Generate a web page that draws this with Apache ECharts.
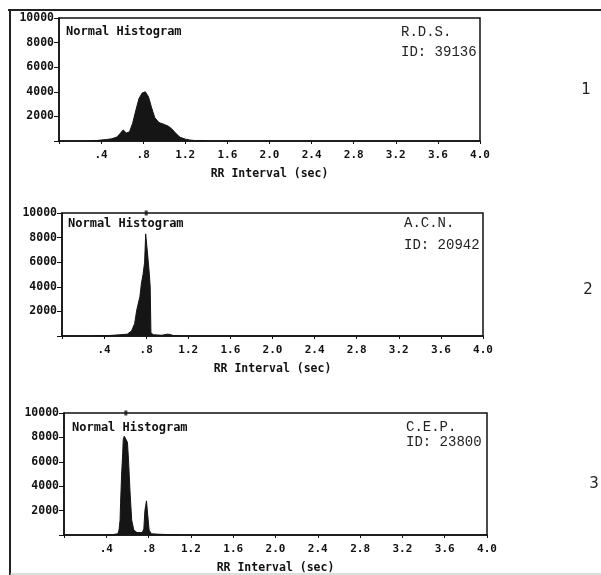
<!DOCTYPE html>
<html>
<head>
<meta charset="utf-8">
<script src="https://cdn.jsdelivr.net/npm/echarts@6/dist/echarts.min.js"></script>
<style>
  html, body { margin: 0; padding: 0; background: #fff; }
  #hist { width: 601px; height: 575px; }
</style>
</head>
<body>
<div id="hist"></div>
<script>
// RR interval histograms, three patients
var patients = ['R.D.S.', 'A.C.N.', 'C.E.P.'];
var patientIds = ['39136', '20942', '23800'];
var panelNumbers = ['1', '2', '3'];

// RR interval (sec) / count
var rdsX = [0.30, 0.35, 0.40, 0.45, 0.50, 0.55, 0.58, 0.61, 0.64, 0.67, 0.70, 0.73, 0.76, 0.79, 0.82, 0.85, 0.88, 0.91, 0.95, 1.00, 1.04, 1.07, 1.11, 1.15, 1.20, 1.25, 1.30, 1.40];
var rdsY = [0, 30, 80, 120, 180, 320, 600, 900, 650, 750, 1450, 2500, 3450, 3900, 4000, 3600, 2700, 1900, 1500, 1350, 1200, 1000, 620, 300, 150, 70, 30, 0];

var acnX = [0.30, 0.45, 0.55, 0.62, 0.66, 0.69, 0.71, 0.74, 0.755, 0.77, 0.785, 0.795, 0.81, 0.815, 0.83, 0.838, 0.845, 0.87, 0.95, 1.00, 1.03, 1.06, 1.12];
var acnY = [0, 40, 100, 150, 400, 1000, 2100, 3200, 4300, 5000, 6000, 8300, 8300, 6500, 5000, 4000, 250, 100, 60, 150, 120, 30, 0];

var cepX = [0.40, 0.45, 0.51, 0.52, 0.53, 0.535, 0.545, 0.555, 0.56, 0.57, 0.585, 0.60, 0.61, 0.625, 0.64, 0.66, 0.69, 0.74, 0.755, 0.765, 0.78, 0.79, 0.805, 0.825, 0.90, 1.00, 1.10];
var cepY = [0, 20, 100, 400, 1200, 2600, 5000, 6700, 7800, 8100, 8100, 7600, 6150, 3440, 1230, 400, 200, 200, 500, 2000, 2800, 1800, 400, 100, 60, 30, 0];

// little mark on the top border at the mode
var modeX = [null, 0.80, 0.585];

var xTickLabels = ['', '.4', '.8', '1.2', '1.6', '2.0', '2.4', '2.8', '3.2', '3.6', '4.0'];
var yTickLabels = ['', '2000', '4000', '6000', '8000', '10000'];

var allX = [rdsX, acnX, cepX];
var allY = [rdsY, acnY, cepY];

var grids = [
    {left: 59, top: 18, width: 421, height: 123},
    {left: 62, top: 213, width: 421, height: 123},
    {left: 64, top: 413, width: 423, height: 122}
];

var monoBold = {fontFamily: 'DejaVu Sans Mono', fontWeight: 'bold', color: '#111'};

var myChart = echarts.init(document.getElementById('hist'));

var option = {
    animation: false,
    backgroundColor: '#fff',
    grid: [],
    xAxis: [],
    yAxis: [],
    series: [],
    title: [],
    graphic: []
};

grids.forEach(function (g, i) {
    option.grid.push({
        left: g.left, top: g.top, width: g.width, height: g.height,
        show: true, borderColor: '#111', borderWidth: 1.5, backgroundColor: 'transparent'
    });
    option.xAxis.push({
        type: 'value', gridIndex: i, min: 0, max: 4, interval: 0.4,
        name: 'RR Interval (sec)', nameLocation: 'middle', nameGap: 27,
        nameTextStyle: Object.assign({fontSize: 11.5}, monoBold),
        axisLine: {lineStyle: {color: '#111', width: 1.5}},
        axisTick: {length: 3, lineStyle: {color: '#111'}},
        splitLine: {show: false},
        axisLabel: Object.assign({
            fontSize: 11, margin: 9,
            formatter: function (v) { return xTickLabels[Math.round(v / 0.4)] || ''; }
        }, monoBold)
    });
    option.yAxis.push({
        type: 'value', gridIndex: i, min: 0, max: 10000, interval: 2000,
        axisLine: {show: true, lineStyle: {color: '#111', width: 1.5}},
        axisTick: {show: true, length: 5, lineStyle: {color: '#111'}},
        splitLine: {show: false},
        axisLabel: Object.assign({
            fontSize: 11.5, margin: 5,
            formatter: function (v) { return yTickLabels[Math.round(v / 2000)] || ''; }
        }, monoBold)
    });

    var pts = [];
    for (var k = 0; k < allX[i].length; k++) {
        pts.push([allX[i][k], allY[i][k]]);
    }
    option.series.push({
        name: patients[i], type: 'line', xAxisIndex: i, yAxisIndex: i,
        data: pts, symbol: 'none', smooth: false,
        lineStyle: {color: '#151515', width: 1},
        areaStyle: {color: '#151515', opacity: 1}
    });
    if (modeX[i] != null) {
        option.series.push({
            type: 'scatter', xAxisIndex: i, yAxisIndex: i,
            data: [[modeX[i], 10000]], symbol: 'rect', symbolSize: [3, 5],
            itemStyle: {color: '#111'}, clip: false, silent: true
        });
    }
});

// text inside the boxes
var titleTops = [26, 218, 422];
var titleLefts = [66, 68, 72];
var nameTops = [23, 212, 420];
var nameLefts = [401, 404, 406];
var nameLineH = [19.5, 22, 15];
for (var i = 0; i < 3; i++) {
    option.title.push({
        text: 'Normal Histogram', left: titleLefts[i], top: titleTops[i], padding: 0,
        textStyle: Object.assign({fontSize: 12}, monoBold)
    });
    option.title.push({
        text: patients[i] + '\nID: ' + patientIds[i], left: nameLefts[i], top: nameTops[i], padding: 0,
        textStyle: {fontFamily: 'Liberation Mono', fontSize: 14, fontWeight: 'normal', color: '#222', lineHeight: nameLineH[i]}
    });
}

// panel numbers and the page frame
var numPos = [[586, 90], [588, 290], [594, 484]];
numPos.forEach(function (p, i) {
    option.graphic.push({
        type: 'text', x: p[0], y: p[1],
        style: {text: panelNumbers[i], font: '15px "DejaVu Sans"', fill: '#222', align: 'center', verticalAlign: 'middle'}
    });
});
option.graphic.push({type: 'line', shape: {x1: 8, y1: 10, x2: 601, y2: 10}, style: {stroke: '#222', lineWidth: 2}});
option.graphic.push({type: 'line', shape: {x1: 10, y1: 10, x2: 10, y2: 575}, style: {stroke: '#222', lineWidth: 2}});
option.graphic.push({type: 'line', shape: {x1: 10, y1: 574, x2: 601, y2: 574}, style: {stroke: '#bbb', lineWidth: 1}});

myChart.setOption(option);
</script>
</body>
</html>
